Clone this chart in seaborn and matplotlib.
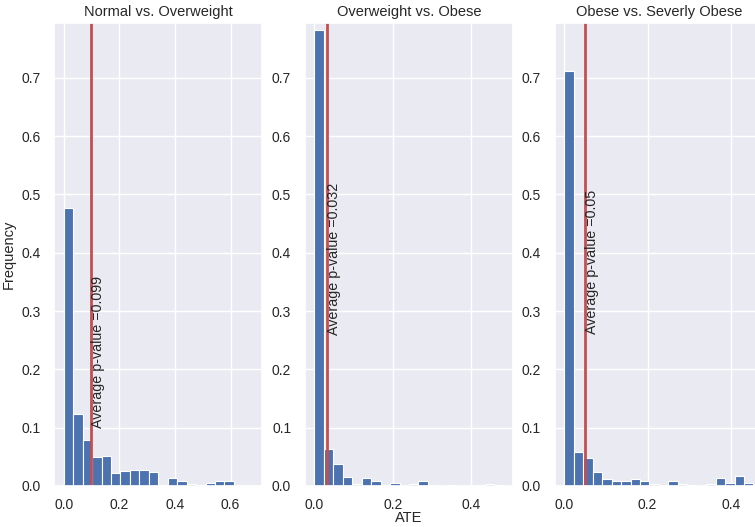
import numpy as np
import matplotlib
matplotlib.use("Agg")
import matplotlib.pyplot as plt
import seaborn as sns

# ---- data ----
titles = ["Normal vs. Overweight", "Overweight vs. Obese", "Obese vs. Severly Obese"]

freq_normal_overweight = [0.476, 0.123, 0.079, 0.050, 0.052, 0.022, 0.026, 0.027, 0.027, 0.024,
                          0.002, 0.013, 0.009, 0.004, 0.002, 0.005, 0.009, 0.009, 0.0, 0.001]
freq_overweight_obese = [0.782, 0.064, 0.037, 0.016, 0.004, 0.014, 0.008, 0.002, 0.005, 0.0,
                         0.004, 0.008, 0.002, 0.0, 0.002, 0.0, 0.0, 0.002, 0.004, 0.002]
freq_obese_severe = [0.712, 0.058, 0.048, 0.024, 0.012, 0.008, 0.008, 0.012, 0.009, 0.004,
                     0.002, 0.008, 0.004, 0.002, 0.0, 0.004, 0.014, 0.005, 0.018, 0.005]

ate_max = [0.68, 0.483, 0.454]          # upper edge of the histogram range per panel
avg_p_values = [0.099, 0.032, 0.05]
label_y = [0.23, 0.39, 0.385]

freqs = [freq_normal_overweight, freq_overweight_obese, freq_obese_severe]

# ---- style ----
sns.set_theme(style="darkgrid")
plt.rcParams["font.family"] = ["Liberation Sans", "DejaVu Sans"]
plt.rcParams["xtick.major.pad"] = 3
plt.rcParams["ytick.major.pad"] = 4

fig = plt.figure(figsize=(7.55, 5.27), dpi=100)
lefts = [0.0719, 0.404, 0.735]
axes = []
for i, left in enumerate(lefts):
    ax = fig.add_axes([left, 0.0778, 0.2755, 0.8786], sharey=axes[0] if axes else None)
    axes.append(ax)

bar_color = "#4C72B0"
line_color = "#C44E52"

for i, ax in enumerate(axes):
    n = len(freqs[i])
    width = ate_max[i] / n
    centers = (np.arange(n) + 0.5) * width
    sns.histplot(x=centers, weights=freqs[i], bins=n, binrange=(0, ate_max[i]),
                 color=bar_color, alpha=1.0, edgecolor="white", linewidth=0.8, ax=ax)
    ax.axvline(avg_p_values[i], color=line_color, linewidth=2)
    ax.text(avg_p_values[i], label_y[i], f"Average p-value ={avg_p_values[i]}",
            rotation=90, ha="left", va="center", fontsize=10.3, color="#262626")
    ax.set_title(titles[i], fontsize=10.5, pad=5)
    ax.set_ylabel("Frequency" if i == 0 else "", fontsize=10.5, labelpad=4)
    ax.set_xlabel("ATE" if i == 1 else "", fontsize=10.5, labelpad=-1)
    ax.tick_params(axis="both", labelsize=10, labelleft=True)

axes[0].set_ylim(0, 0.794)
axes[0].set_yticks(np.arange(0, 0.71, 0.1))

fig.savefig("out.png", dpi=100)
